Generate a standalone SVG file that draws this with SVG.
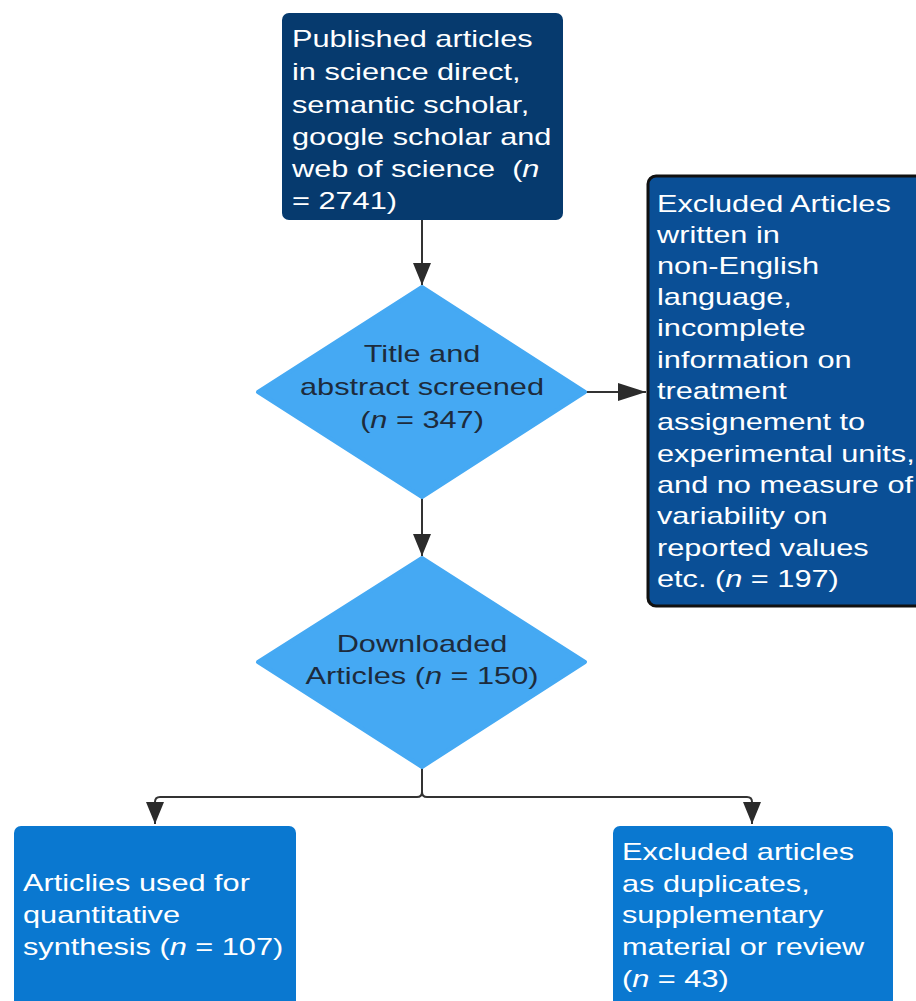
<svg xmlns="http://www.w3.org/2000/svg" width="916" height="1001" viewBox="0 0 916 1001">
<defs>
<style>
.t{font-family:"Liberation Sans",Arial,sans-serif;font-size:24px;fill:#ffffff}
.d{font-family:"Liberation Sans",Arial,sans-serif;font-size:24px;fill:#1d2b3c;text-anchor:middle}
.c{fill:none;stroke:#333333;stroke-width:2}
</style>
<marker id="ah" markerWidth="18" markerHeight="22" refX="9" refY="22" orient="0" markerUnits="userSpaceOnUse" viewBox="0 0 18 22">
<path d="M0 0 L18 0 L9 22 Z" fill="#2b2b2b"/>
</marker>
<marker id="ahr" markerWidth="28" markerHeight="18" refX="28" refY="9" orient="0" markerUnits="userSpaceOnUse" viewBox="0 0 28 18">
<path d="M0 0 L28 9 L0 18 Z" fill="#2b2b2b"/>
</marker>
</defs>
<rect width="916" height="1001" fill="#ffffff"/>
<g id="connectors">
<path class="c" d="M422 220 V285" marker-end="url(#ah)"/>
<path class="c" d="M585 392 H646" marker-end="url(#ahr)"/>
<path class="c" d="M422 497 V556" marker-end="url(#ah)"/>
<path class="c" d="M422 767 V792 Q422 797 417 797 H160 Q155 797 155 802 V824" marker-end="url(#ah)"/>
<path class="c" d="M422 767 V792 Q422 797 427 797 H747 Q752 797 752 802 V824" marker-end="url(#ah)"/>
</g>
<g id="published">
<rect x="282" y="13" width="281" height="207" rx="7" fill="#063a6e"/>
<text class="t" transform="translate(292,0) scale(1.28,1)"><tspan x="0" y="47">Published articles</tspan><tspan x="0" y="80">in science direct,</tspan><tspan x="0" y="113">semantic scholar,</tspan><tspan x="0" y="145">google scholar and</tspan><tspan x="0" y="177">web of science&#160; (<tspan font-style="italic">n</tspan></tspan><tspan x="0" y="209">= 2741)</tspan></text>
</g>
<g id="excluded1">
<rect x="648" y="176" width="290" height="430" rx="8" fill="#0a4f96" stroke="#111111" stroke-width="3"/>
<text class="t" transform="translate(657,0) scale(1.28,1)"><tspan x="0" y="212">Excluded Articles</tspan><tspan x="0" y="243">written in</tspan><tspan x="0" y="274">non-English</tspan><tspan x="0" y="305">language,</tspan><tspan x="0" y="336">incomplete</tspan><tspan x="0" y="368">information on</tspan><tspan x="0" y="399">treatment</tspan><tspan x="0" y="430">assignement to</tspan><tspan x="0" y="462">experimental units,</tspan><tspan x="0" y="493">and no measure of</tspan><tspan x="0" y="524">variability on</tspan><tspan x="0" y="556">reported values</tspan><tspan x="0" y="587">etc. (<tspan font-style="italic">n</tspan> = 197)</tspan></text>
</g>
<g id="screened">
<path d="M422 287 L585 392 L422 497 L258 392 Z" fill="#45a9f3" stroke="#45a9f3" stroke-width="4" stroke-linejoin="round"/>
<text class="d" transform="translate(422,0) scale(1.28,1)"><tspan x="0" y="362">Title and</tspan><tspan x="0" y="395">abstract screened</tspan><tspan x="0" y="428">(<tspan font-style="italic">n</tspan> = 347)</tspan></text>
</g>
<g id="downloaded">
<path d="M422 558 L585 662 L422 767 L258 662 Z" fill="#45a9f3" stroke="#45a9f3" stroke-width="4" stroke-linejoin="round"/>
<text class="d" transform="translate(422,0) scale(1.28,1)"><tspan x="0" y="652">Downloaded</tspan><tspan x="0" y="684">Articles (<tspan font-style="italic">n</tspan> = 150)</tspan></text>
</g>
<g id="used">
<rect x="14" y="826" width="282" height="190" rx="7" fill="#0a78d0"/>
<text class="t" transform="translate(23,0) scale(1.28,1)"><tspan x="0" y="891">Articlies used for</tspan><tspan x="0" y="923">quantitative</tspan><tspan x="0" y="955">synthesis (<tspan font-style="italic">n</tspan> = 107)</tspan></text>
</g>
<g id="excluded2">
<rect x="613" y="826" width="280" height="190" rx="7" fill="#0a78d0"/>
<text class="t" transform="translate(622,0) scale(1.28,1)"><tspan x="0" y="860">Excluded articles</tspan><tspan x="0" y="892">as duplicates,</tspan><tspan x="0" y="923">supplementary</tspan><tspan x="0" y="955">material or review</tspan><tspan x="0" y="987">(<tspan font-style="italic">n</tspan> = 43)</tspan></text>
</g>
</svg>
